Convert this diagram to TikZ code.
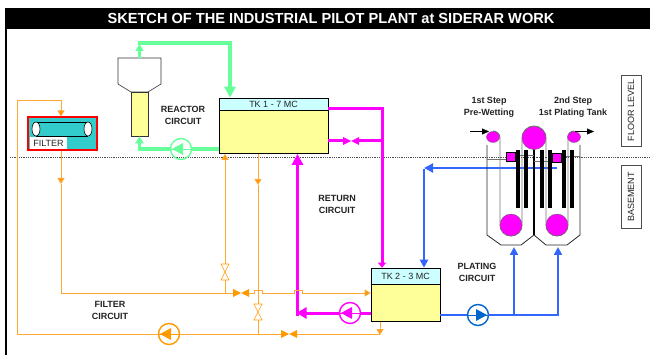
\documentclass[tikz,border=0pt]{standalone}
\usepackage{fontspec}
\setmainfont{Liberation Sans}
\usepackage{tikz}
\usetikzlibrary{positioning}
\usetikzlibrary{arrows.meta}
\usetikzlibrary{shapes.geometric}
\definecolor{greenpipe}{RGB}{102,255,153}
\definecolor{orangepipe}{RGB}{255,166,51}
\definecolor{orangehead}{RGB}{255,153,0}
\definecolor{bluepipe}{RGB}{51,102,255}
\definecolor{bluepump}{RGB}{0,102,204}
\definecolor{pinkpipe}{RGB}{255,0,255}
\definecolor{redbox}{RGB}{255,0,0}
\definecolor{tankyellow}{RGB}{255,255,153}
\definecolor{tankcyan}{RGB}{204,255,255}
\definecolor{filterteal}{RGB}{51,204,204}
\definecolor{labelgrey}{RGB}{34,34,34}

\begin{document}
\begin{tikzpicture} [
    x=1pt, y=-1pt,                  % Same units as the 650x355 sketch
    ]
% -------------------------------------------------
\tikzset{
  title/.style={fill=black, text=white, font=\bfseries\fontsize{14.6}{14.6}\selectfont, minimum width=645pt, minimum height=21pt, inner sep=0pt},
  caption/.style={align=center, text=labelgrey, font=\bfseries\fontsize{9}{12}\selectfont},
  sidebox/.style={draw=black!70, fill=white, thick, rotate=90, inner sep=0pt, minimum height=20pt, font=\fontsize{9}{9}\selectfont, text=labelgrey},
  tankhead/.style={draw=black, semithick, fill=tankcyan, inner sep=0pt, text=labelgrey, font=\fontsize{9}{9}\selectfont},
  tankbody/.style={draw=black, semithick, fill=tankyellow, inner sep=0pt},
  roller/.style={draw=black!60, fill=pinkpipe, ellipse, inner sep=0pt},
  plate/.style={fill=black, minimum width=3.5pt, minimum height=58pt, inner sep=0pt},
  sqr/.style={draw=black, fill=pinkpipe, minimum size=9pt, inner sep=0pt},
  pump/.style={circle, draw=#1, line width=1.4pt, minimum size=21pt, inner sep=0pt},
  pumpleft/.style={pump=#1, path picture={
      \draw[#1, thick] (path picture bounding box.west) -- (path picture bounding box.east);
      \fill[#1] ([xshift=-9pt]path picture bounding box.center) -- ++(11,-6) -- ++(0,12) -- cycle;}},
  pumpright/.style={pump=#1, path picture={
      \draw[#1, thick] (path picture bounding box.west) -- (path picture bounding box.east);
      \fill[#1] ([xshift=9pt]path picture bounding box.center) -- ++(-11,-6) -- ++(0,12) -- cycle;}},
  valveh/.style={minimum width=18pt, minimum height=9pt, inner sep=0pt, outer sep=-1pt, path picture={
      \fill[#1] ([shift={(-8,-4)}]path picture bounding box.center) -- ++(16,8) -- ++(0,-8) -- ++(-16,8) -- cycle;}},
  valvev/.style={minimum width=9pt, minimum height=18pt, inner sep=0pt, outer sep=-1pt, path picture={
      \draw[orangehead, fill=white, semithick] ([shift={(-4,-8)}]path picture bounding box.center) -- ++(8,0) -- ++(-8,16) -- ++(8,0) -- cycle;}},
  greenline/.style={draw=greenpipe, line width=3.4pt},
  magline/.style={draw=pinkpipe, line width=3pt},
  blueline/.style={draw=bluepipe, line width=2pt},
  orgline/.style={draw=orangepipe, line width=1pt},
  strip/.style={draw=black!55, line width=0.9pt},
  wall/.style={draw=black!85, line width=0.8pt},
  org/.style={-{Triangle[length=6pt, width=7pt, fill=orangehead]}}
}

    \useasboundingbox (0,0) rectangle (650,355);

    \draw[black, line width=2pt] (6,8) -- (6,355);                     % left edge of the sheet
    \node [title] (head) at (327.5,18.5) {\hspace*{7pt}SKETCH OF THE INDUSTRIAL PILOT PLANT at SIDERAR WORK};

    \draw[black!70, densely dotted, line width=0.8pt] (10,157) -- (650,157);  % floor line

    \node [sidebox, minimum width=71pt] (floor) at (631,110.5) {FLOOR LEVEL};
    \node [sidebox, minimum width=63pt] (base) at (631,197) {BASEMENT};

    % tanks
    \node [tankhead, minimum width=109pt, minimum height=12pt] (tka) at (273.5,104) {TK 1 - 7 MC};
    \node [tankbody, minimum width=109pt, minimum height=43pt, below=0pt of tka] (tkab) {};
    \node [tankhead, minimum width=69pt, minimum height=16pt] (tkb) at (405.5,276) {TK 2 - 3 MC};
    \node [tankbody, minimum width=69pt, minimum height=37pt, below=0pt of tkb] (tkbb) {};

    % reactor and hopper
    \node [tankbody, draw=black!80, minimum width=17pt, minimum height=44pt] (reac) at (139.5,114) {};
    \draw[black!80, semithick, fill=white] (118,58) -- (161,58) -- (161,84) -- (148,92) -- (131,92) -- (118,84) -- cycle;
    \coordinate (hoptop) at (139.5,58);

    % filter
    \node [draw=redbox, line width=2pt, fill=filterteal, minimum width=69pt, minimum height=33pt, inner sep=0pt] (filt) at (62,134) {};
    \draw[black, semithick] (36,122) -- (88,122);
    \draw[black, semithick] (36,136) -- (88,136);
    \node [draw=black, semithick, fill=white, ellipse, minimum width=8pt, minimum height=14pt, inner sep=0pt] (filtl) at (36,129) {};
    \node [draw=black, semithick, fill=white, ellipse, minimum width=8pt, minimum height=14pt, inner sep=0pt] (filtr) at (88,129) {};
    \node [fill=white, text=labelgrey, font=\fontsize{9}{9}\selectfont, minimum width=37pt, minimum height=12pt, inner sep=0pt] (filtx) at (48.5,143) {FILTER};

    % pumps
    \node [pumpleft=greenpipe] (pgreen) at (181,149) {};
    \node [pumpleft=pinkpipe] (pmag) at (350,313) {};
    \node [pumpleft=orangehead] (porg) at (169,334) {};
    \node [pumpright=bluepump] (pblue) at (478,315) {};

    % valves
    \node [valveh=pinkpipe] (vmag) at (351,141) {};
    \node [valveh=orangehead] (vorga) at (241,293) {};
    \node [valveh=orangehead] (vorgb) at (289,334) {};
    \node [valvev] (vorgc) at (225,272) {};
    \node [valvev] (vorgd) at (258,312) {};

    % corners of the pipes
    \coordinate (gca) at (139.5,43);
    \coordinate (gcb) at (230,43);
    \coordinate (gcc) at (139.5,149);
    \coordinate (mca) at (382,109);
    \coordinate (mcb) at (382,141);
    \coordinate (mcc) at (297.5,313);
    \coordinate (bca) at (424,168);
    \coordinate (bcb) at (557,168);
    \coordinate (bcc) at (514,315);
    \coordinate (bcd) at (558,315);
    \coordinate (oca) at (17,101);
    \coordinate (ocb) at (61,101);
    \coordinate (occ) at (17,334);
    \coordinate (ocd) at (61,293);
    \coordinate (oce) at (225,293);
    \coordinate (ocf) at (258,334);
    \coordinate (ocg) at (380,334);
    \coordinate (och) at (61,184);
    \coordinate (oci) at (258,185);

    % reactor circuit
    \draw [greenline, -{Triangle[length=7pt, width=8pt]}] (hoptop) -- ([yshift=-1pt]gca);
    \draw [greenline, line cap=rect] (gca) -- (gcb);
    \draw [greenline, -{Triangle[length=11pt, width=11pt]}] (gcb) -- (gcb |- tka.north);
    \draw [greenline] (pgreen) -- (tkab.west |- pgreen);
    \draw [greenline] (pgreen) -- (gcc);
    \draw [greenline, line cap=rect, -{Triangle[length=7pt, width=8pt]}] (gcc) -- (reac.south);

    % return circuit
    \draw [magline] (tkab.east |- mca) -- (mca);
    \draw [magline, line cap=rect] (mca) -- ([yshift=-1pt]mca);
    \draw [magline, -{Triangle[length=5pt, width=8pt]}] (mca) -- (mca |- tkb.north);
    \draw [magline] (tkab.east |- mcb) -- (vmag);
    \draw [magline] (vmag) -- (mcb);
    \draw [magline] (tkbb.west |- pmag) -- (pmag);
    \draw [magline, -{Triangle[length=10pt, width=11pt]}] (pmag) -- ([xshift=-1pt]mcc);
    \draw [magline, line cap=rect] ([yshift=-1pt]mcc) -- ([yshift=1pt]mcc);
    \draw [magline, -{Triangle[length=11pt, width=11pt]}] (mcc) -- (mcc |- tkab.south);

    % plating circuit
    \draw [blueline] (tkbb.east |- pblue) -- (pblue);
    \draw [blueline, line cap=rect] (pblue) -- (bcd);
    \draw [blueline, -{Triangle[length=8pt, width=8pt]}] (bcc) -- (514,247);
    \draw [blueline, -{Triangle[length=8pt, width=8pt]}] (bcd) -- (558,247);
    \draw [blueline, -{Triangle[length=9pt, width=9pt]}] (bcb) -- (bca);
    \draw [blueline, -{Triangle[length=8pt, width=8pt]}] ([yshift=-1pt]bca) -- (bca |- tkb.north);

    % filter circuit
    \draw [orgline, org] (oca) -- (ocb) -- (ocb |- filt.north);
    \draw [orgline] (oca) -- (occ) -- (porg);
    \draw [orgline] (porg) -- (ocf);
    \draw [orgline] (ocf) -- (vorgb);
    \draw [orgline] (vorgb) -- (ocg);
    \draw [orgline, org] (ocg |- tkbb.south) -- ([yshift=-1pt]ocg);
    \draw [orgline, org] (ocd |- filt.south) -- (och);
    \draw [orgline] (och) -- (ocd) -- (vorga);
    \draw [orgline, org] (vorgc) -- (vorgc |- tkab.south);
    \draw [orgline] (oce) -- (vorgc);
    \draw [orgline, org] (oci |- tkab.south) -- (oci);
    \draw [orgline] (oci) -- (vorgd);
    \draw [orgline] (vorgd) -- (ocf);
    \draw [orgline] (vorga) -- (254,293) -- (254,290) -- (262,290) -- (262,293) -- (294,293) -- (294,290) -- (302,290) -- (302,293);
    \draw [orgline, org] (302,293) -- (tkbb.west |- 0,293);

    % plating tanks
    \draw [wall] (487,145) -- (487,235) -- (501,245) -- (521,245) -- (534,235) -- (546,245) -- (567,245) -- (580,235) -- (580,145);
    \draw [black, line width=1.4pt] (534,148) -- (534,235);

    % strip through the tanks
    \draw [strip] (493,131) arc[start angle=-90, end angle=0, radius=7] -- (500,225) arc[start angle=180, end angle=0, radius=11]
        -- (522,138) arc[start angle=180, end angle=360, radius=12] -- (546,225) arc[start angle=180, end angle=0, radius=11]
        -- (568,137) arc[start angle=180, end angle=270, radius=6];
    \draw [strip] (487,159) -- (506,159);
    \draw [strip] (515,155) -- (534,155);
    \draw [strip] (534,161) -- (552,161);
    \draw [strip] (562,156) -- (580,156);

    \node [roller, minimum width=13pt, minimum height=11pt] (rla) at (493,137) {};
    \node [roller, minimum width=13pt, minimum height=11pt] (rlb) at (574,137) {};
    \node [roller, minimum width=24pt, minimum height=23pt] (rlc) at (534,138) {};
    \node [roller, minimum width=22pt, minimum height=22pt] (rld) at (511,225) {};
    \node [roller, minimum width=22pt, minimum height=22pt] (rle) at (557,225) {};

    \foreach \xpos in {518,526,542,550,564,572}
        \node [plate] at (\xpos,179) {};

    \node [sqr] (sqa) at (510.5,157) {};
    \node [sqr] (sqb) at (556.5,158) {};

    \coordinate (stin) at (470,131.5);
    \coordinate (stout) at (594,131.5);
    \draw [black, -{Triangle[length=7pt, width=6pt]}] (stin) -- (489,131.5);
    \draw [black, -{Triangle[length=7pt, width=6pt]}] (575,131.5) -- (stout);

    % labels
    \node [caption] (creac) at (183,115) {REACTOR\\CIRCUIT};
    \node [caption] (cret) at (337,204) {RETURN\\CIRCUIT};
    \node [caption] (cplat) at (477,272) {PLATING\\CIRCUIT};
    \node [caption] (cfilt) at (110,310) {FILTER\\CIRCUIT};
    \node [caption] (cpre) at (489,107) {1st Step\\Pre-Wetting};
    \node [caption] (cpla) at (573,107) {2nd Step\\1st Plating Tank};

\end{tikzpicture}
\end{document}
